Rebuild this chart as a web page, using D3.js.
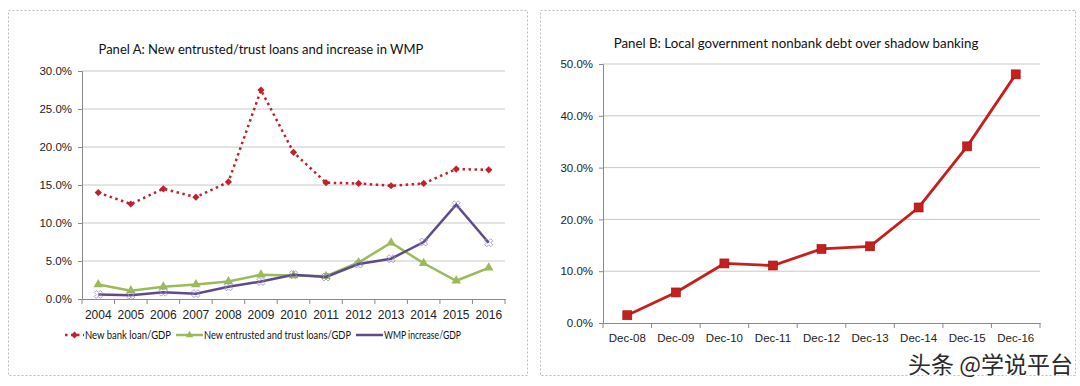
<!DOCTYPE html>
<html lang="en">
<meta charset="utf-8">
<style>
body { margin: 0; background: #fff; font-family: 'Lato', 'Open Sans', sans-serif; }
.grid line { stroke: #c8c8c8; stroke-width: 1; }
.axis path, .axis line { stroke: #8a8a8a; }
.axis text { fill: #222; font-size: 11.5px; }
.frame { fill: none; stroke: #bdbdbd; stroke-dasharray: 2,2; }
</style>
<body>
<div id="chart"></div>
<script src="https://d3js.org/d3.v7.min.js"></script>
<script>
// panel A data
var years = ["2004","2005","2006","2007","2008","2009","2010","2011","2012","2013","2014","2015","2016"];
var bankLoan = [14.0, 12.5, 14.5, 13.4, 15.4, 27.5, 19.3, 15.3, 15.2, 14.9, 15.2, 17.1, 17.0];
var trustLoans = [1.9, 1.1, 1.6, 1.9, 2.3, 3.2, 3.1, 3.0, 4.8, 7.4, 4.7, 2.4, 4.1];
var wmpIncrease = [0.6, 0.5, 0.9, 0.7, 1.6, 2.3, 3.2, 2.9, 4.6, 5.3, 7.5, 12.4, 7.4];
var ticksA = [0, 5, 10, 15, 20, 25, 30];

// panel B data
var months = ["Dec-08","Dec-09","Dec-10","Dec-11","Dec-12","Dec-13","Dec-14","Dec-15","Dec-16"];
var localDebt = [1.5, 5.9, 11.5, 11.1, 14.3, 14.8, 22.3, 34.1, 48.0];
var ticksB = [0, 10, 20, 30, 40, 50];

var width = 1080, height = 386;
var svg = d3.select("#chart").append("svg")
    .attr("width", width)
    .attr("height", height);

// dashed frames round the two panels
svg.append("rect").attr("class", "frame").attr("x", 8.5).attr("y", 10.5).attr("width", 519).attr("height", 365);
svg.append("rect").attr("class", "frame").attr("x", 540.5).attr("y", 10.5).attr("width", 535).attr("height", 365);

var pct = function(d) { return d.toFixed(1) + "%"; };

// ---------- Panel A ----------
var xA = d3.scaleBand().domain(years).range([82, 505]);
var yA = d3.scaleLinear().domain([0, 30]).range([299, 71]);

svg.append("text")
    .attr("x", 261).attr("y", 54)
    .attr("text-anchor", "middle")
    .style("font-size", "13px")
    .style("fill", "#111")
    .text("Panel A: New entrusted/trust loans and increase in WMP");

svg.append("g").attr("class", "grid")
  .selectAll("line").data(ticksA.slice(1)).enter().append("line")
    .attr("x1", 82).attr("x2", 505)
    .attr("y1", function(d) { return yA(d); }).attr("y2", function(d) { return yA(d); });

svg.append("g").attr("class", "axis")
    .attr("transform", "translate(82,0)")
    .call(d3.axisLeft(yA).tickValues(ticksA).tickFormat(pct).tickSize(4).tickPadding(6));

var xAxisA = svg.append("g").attr("class", "axis")
    .attr("transform", "translate(0,299)")
    .call(d3.axisBottom(xA).tickSize(0).tickPadding(11));
xAxisA.selectAll("text").style("font-size", "12px");
// tick marks between categories
xAxisA.selectAll(".sep").data(years.concat(["end"])).enter().append("line")
    .attr("class", "sep")
    .attr("x1", function(d, i) { return 82 + i * xA.step(); })
    .attr("x2", function(d, i) { return 82 + i * xA.step(); })
    .attr("y1", 0).attr("y2", 5);

var cx = function(d, i) { return xA(years[i]) + xA.bandwidth() / 2; };
var lineA = d3.line().x(cx).y(function(d) { return yA(d); });

var redA = "#c0212e", greenA = "#9bbb59", purpleA = "#5f4a8b";

// entrusted and trust loans
svg.append("path").datum(trustLoans)
    .attr("d", lineA).attr("fill", "none")
    .attr("stroke", greenA).attr("stroke-width", 2.5);
svg.append("g").selectAll("path").data(trustLoans).enter().append("path")
    .attr("transform", function(d, i) { return "translate(" + cx(d, i) + "," + yA(d) + ")"; })
    .attr("d", d3.symbol().type(d3.symbolTriangle).size(40))
    .attr("fill", greenA);

// WMP increase
svg.append("path").datum(wmpIncrease)
    .attr("d", lineA).attr("fill", "none")
    .attr("stroke", purpleA).attr("stroke-width", 2.5);
svg.append("g").selectAll("path").data(wmpIncrease).enter().append("path")
    .attr("transform", function(d, i) { return "translate(" + cx(d, i) + "," + yA(d) + ") rotate(45)"; })
    .attr("d", d3.symbol().type(d3.symbolCross).size(40))
    .attr("fill", "none").attr("stroke", "#9b8fc8").attr("stroke-width", 0.8);

// new bank loan (dotted)
svg.append("path").datum(bankLoan)
    .attr("d", lineA).attr("fill", "none")
    .attr("stroke", redA).attr("stroke-width", 2.5)
    .attr("stroke-dasharray", "2.5,3.5");
svg.append("g").selectAll("path").data(bankLoan).enter().append("path")
    .attr("transform", function(d, i) { return "translate(" + cx(d, i) + "," + yA(d) + ") rotate(45)"; })
    .attr("d", d3.symbol().type(d3.symbolSquare).size(26))
    .attr("fill", redA);

// legend
var legend = svg.append("g").style("font-size", "11px");
var legendItems = [
  { label: "New bank loan/GDP", color: redA, x: 65, w: 19, tw: 86, dash: "2.5,3.5", sym: d3.symbolSquare, rot: 45 },
  { label: "New entrusted and trust loans/GDP", color: greenA, x: 176, w: 27, tw: 147, dash: null, sym: d3.symbolTriangle, rot: 0 },
  { label: "WMP increase/GDP", color: purpleA, x: 356, w: 27, tw: 77, dash: null, sym: null, rot: 0 }
];
legendItems.forEach(function(it) {
  var ly = 335;
  legend.append("line")
      .attr("x1", it.x).attr("x2", it.x + it.w).attr("y1", ly).attr("y2", ly)
      .attr("stroke", it.color).attr("stroke-width", 2.5)
      .attr("stroke-dasharray", it.dash);
  if (it.sym) {
    legend.append("path")
        .attr("transform", "translate(" + (it.x + it.w / 2) + "," + ly + ") rotate(" + it.rot + ")")
        .attr("d", d3.symbol().type(it.sym).size(24))
        .attr("fill", it.color);
  }
  legend.append("text")
      .attr("x", it.x + it.w + 1).attr("y", ly + 4)
      .attr("textLength", it.tw).attr("lengthAdjust", "spacingAndGlyphs")
      .style("fill", "#111")
      .text(it.label);
});

// ---------- Panel B ----------
var xB = d3.scaleBand().domain(months).range([603, 1040]);
var yB = d3.scaleLinear().domain([0, 50]).range([323, 64]);

svg.append("text")
    .attr("x", 796).attr("y", 48)
    .attr("text-anchor", "middle")
    .style("font-size", "13.3px")
    .style("fill", "#111")
    .text("Panel B: Local government nonbank debt over shadow banking");

svg.append("g").attr("class", "grid")
  .selectAll("line").data(ticksB.slice(1)).enter().append("line")
    .attr("x1", 603).attr("x2", 1040)
    .attr("y1", function(d) { return yB(d); }).attr("y2", function(d) { return yB(d); });

svg.append("g").attr("class", "axis")
    .attr("transform", "translate(603,0)")
    .call(d3.axisLeft(yB).tickValues(ticksB).tickFormat(pct).tickSize(4).tickPadding(6));

var xAxisB = svg.append("g").attr("class", "axis")
    .attr("transform", "translate(0,323)")
    .call(d3.axisBottom(xB).tickSize(0).tickPadding(11));
xAxisB.selectAll(".sep").data(months.concat(["end"])).enter().append("line")
    .attr("class", "sep")
    .attr("x1", function(d, i) { return 603 + i * xB.step(); })
    .attr("x2", function(d, i) { return 603 + i * xB.step(); })
    .attr("y1", 0).attr("y2", 5);

var cxB = function(d, i) { return xB(months[i]) + xB.bandwidth() / 2; };
var redB = "#c4201d";
svg.append("path").datum(localDebt)
    .attr("d", d3.line().x(cxB).y(function(d) { return yB(d); }))
    .attr("fill", "none").attr("stroke", redB).attr("stroke-width", 2.8);
svg.append("g").selectAll("rect").data(localDebt).enter().append("rect")
    .attr("x", function(d, i) { return cxB(d, i) - 4.5; })
    .attr("y", function(d) { return yB(d) - 4.5; })
    .attr("width", 9).attr("height", 9)
    .attr("fill", redB).attr("stroke", "#a01010").attr("stroke-width", 0.6);

// watermark
svg.append("text")
    .attr("x", 1073).attr("y", 373)
    .attr("text-anchor", "end")
    .style("font-family", "'Noto Sans CJK SC', sans-serif")
    .style("font-size", "23px")
    .style("fill", "#2a2a2a")
    .style("stroke", "#ffffff").style("stroke-width", 2.5)
    .style("paint-order", "stroke")
    .text("头条 @学说平台");
</script>
</body>
</html>
